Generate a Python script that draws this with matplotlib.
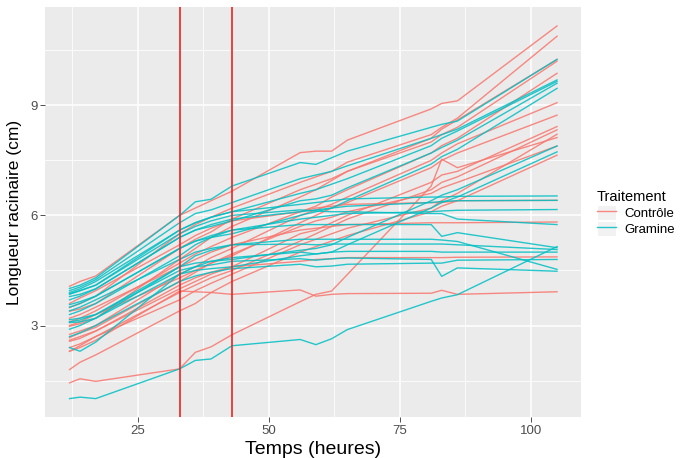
import matplotlib
matplotlib.use("Agg")
from matplotlib import pyplot as plt
from matplotlib.lines import Line2D
from matplotlib.patches import Patch
from matplotlib.legend_handler import HandlerTuple
from matplotlib.ticker import MultipleLocator

plt.rcParams['font.family'] = ['Liberation Sans', 'DejaVu Sans']

# temps de mesure (heures)
temps = [12, 14, 17, 33, 36, 39, 43, 56, 59, 62, 65, 81, 83, 86, 105]

# longueur racinaire (cm), une liste par plante
controle = [
    [4.07, 4.20, 4.35, 6.00, 6.20, 6.40, 6.66, 7.71, 7.75, 7.75, 8.05, 8.90, 9.05, 9.12, 11.16],
    [3.49, 3.60, 3.80, 5.50, 5.75, 5.95, 6.20, 6.90, 7.05, 7.20, 7.45, 8.20, 8.40, 8.65, 10.88],
    [3.39, 3.45, 3.60, 5.10, 5.35, 5.55, 5.90, 6.70, 6.85, 7.00, 7.20, 8.10, 8.35, 8.60, 10.25],
    [2.98, 3.05, 3.20, 4.80, 5.10, 5.40, 5.70, 6.50, 6.70, 6.95, 7.20, 8.00, 8.20, 8.40, 10.20],
    [3.10, 3.20, 3.40, 4.70, 4.95, 5.15, 5.40, 6.10, 6.25, 6.50, 6.70, 7.70, 7.90, 8.10, 9.87],
    [2.76, 2.85, 3.00, 4.40, 4.60, 4.85, 5.10, 6.00, 6.15, 6.30, 6.50, 7.50, 7.70, 7.95, 9.07],
    [2.67, 2.80, 2.95, 4.20, 4.45, 4.70, 4.90, 5.80, 6.00, 6.20, 6.35, 7.30, 7.50, 7.70, 8.73],
    [2.57, 2.65, 2.85, 4.00, 4.20, 4.40, 4.60, 5.50, 5.60, 5.80, 6.00, 6.90, 7.10, 7.20, 8.42],
    [2.30, 2.45, 2.70, 3.90, 4.10, 4.30, 4.50, 5.30, 5.50, 5.70, 5.90, 6.70, 6.90, 7.05, 8.33],
    [1.44, 1.55, 1.48, 1.82, 2.27, 2.42, 2.75, 3.65, 3.85, 3.94, 4.39, 6.80, 7.53, 7.30, 8.12],
    [2.40, 2.50, 2.70, 3.70, 3.95, 4.15, 4.40, 5.20, 5.35, 5.50, 5.65, 6.20, 6.40, 6.60, 8.21],
    [3.00, 3.10, 3.30, 4.30, 4.50, 4.70, 4.95, 5.70, 5.85, 5.95, 6.10, 6.60, 6.75, 6.90, 7.89],
    [1.80, 2.00, 2.20, 3.40, 3.60, 3.90, 4.20, 5.00, 5.15, 5.30, 5.45, 6.10, 6.25, 6.40, 7.64],
    [3.60, 3.75, 3.95, 5.20, 5.45, 5.65, 5.85, 6.10, 6.20, 6.25, 6.30, 6.35, 6.35, 6.40, 6.41],
    [3.20, 3.30, 3.50, 4.60, 4.80, 5.00, 5.20, 5.60, 5.65, 5.70, 5.75, 5.80, 5.80, 5.80, 5.82],
    [2.60, 2.70, 2.85, 4.10, 4.30, 4.45, 4.60, 4.75, 4.80, 4.82, 4.85, 4.85, 4.85, 4.86, 4.87],
    [2.30, 2.40, 2.60, 3.94, 3.92, 3.90, 3.85, 3.97, 3.80, 3.85, 3.87, 3.88, 3.96, 3.85, 3.92],
]

gramine = [
    [4.01, 4.10, 4.30, 6.00, 6.37, 6.44, 6.80, 7.44, 7.39, 7.57, 7.75, 8.40, 8.48, 8.57, 10.25],
    [3.95, 4.05, 4.25, 5.80, 6.05, 6.15, 6.35, 7.00, 7.10, 7.20, 7.35, 8.10, 8.20, 8.35, 9.69],
    [3.87, 3.95, 4.10, 5.60, 5.80, 5.95, 6.10, 6.60, 6.70, 6.85, 7.00, 7.90, 8.10, 8.30, 9.65],
    [3.79, 3.85, 4.00, 5.40, 5.60, 5.70, 5.85, 6.40, 6.45, 6.55, 6.75, 7.70, 7.85, 8.05, 9.60],
    [3.57, 3.65, 3.80, 5.10, 5.30, 5.40, 5.50, 6.00, 6.10, 6.20, 6.40, 7.40, 7.60, 7.80, 9.46],
    [3.16, 3.20, 3.30, 4.60, 4.70, 4.75, 4.80, 5.05, 5.10, 5.20, 5.40, 6.40, 6.55, 6.70, 7.89],
    [3.08, 3.10, 3.20, 4.40, 4.50, 4.55, 4.60, 4.90, 4.95, 5.00, 5.20, 6.20, 6.35, 6.50, 7.73],
    [3.90, 4.00, 4.20, 5.60, 5.80, 5.95, 6.10, 6.30, 6.35, 6.40, 6.45, 6.50, 6.50, 6.52, 6.53],
    [3.70, 3.80, 4.00, 5.40, 5.60, 5.75, 5.90, 6.10, 6.15, 6.20, 6.25, 6.35, 6.38, 6.40, 6.41],
    [3.50, 3.60, 3.80, 5.10, 5.30, 5.45, 5.60, 5.90, 5.95, 6.00, 6.05, 6.10, 6.12, 6.14, 6.16],
    [3.85, 3.95, 4.10, 5.50, 5.70, 5.85, 6.00, 6.15, 6.12, 6.10, 6.10, 6.05, 6.05, 5.90, 5.75],
    [3.30, 3.40, 3.60, 4.90, 5.20, 5.40, 5.60, 5.75, 5.75, 5.75, 5.75, 5.75, 5.43, 5.53, 5.12],
    [2.90, 3.00, 3.20, 4.60, 4.90, 5.05, 5.20, 5.35, 5.35, 5.35, 5.35, 5.35, 5.33, 5.29, 4.53],
    [3.40, 3.50, 3.70, 4.80, 5.00, 5.10, 5.20, 5.22, 5.20, 5.22, 5.22, 5.22, 5.22, 5.20, 5.07],
    [2.40, 2.30, 2.55, 4.40, 4.60, 4.75, 4.85, 5.00, 4.95, 5.00, 5.02, 5.02, 5.00, 5.00, 5.00],
    [3.10, 3.15, 3.30, 4.50, 4.60, 4.65, 4.75, 4.82, 4.78, 4.82, 4.84, 4.80, 4.34, 4.57, 4.48],
    [2.70, 2.80, 3.00, 4.20, 4.35, 4.45, 4.55, 4.67, 4.60, 4.62, 4.67, 4.70, 4.70, 4.78, 4.80],
    [1.01, 1.05, 1.01, 1.82, 2.05, 2.09, 2.45, 2.62, 2.48, 2.64, 2.89, 3.66, 3.75, 3.84, 5.15],
]

traitements = ['Contrôle', 'Gramine']
couleurs = ['#F8766D', '#00BFC4']
limites = [33, 43]

fig = plt.figure(figsize=(6.84, 4.58), dpi=100)
ax = fig.add_axes([0.066, 0.089, 0.784, 0.895])
ax.set_facecolor('#EBEBEB')

for serie in controle:
    ax.plot(temps, serie, color=couleurs[0], lw=1.0, alpha=0.85)
for serie in gramine:
    ax.plot(temps, serie, color=couleurs[1], lw=1.0, alpha=0.85)

# lignes verticales
for x in limites:
    ax.axvline(x, color='#EE2222', lw=1.2, zorder=5)

ax.margins(x=0.05, y=0.05)
ax.xaxis.set_major_locator(MultipleLocator(25))
ax.xaxis.set_minor_locator(MultipleLocator(12.5))
ax.set_yticks([3, 6, 9])
ax.yaxis.set_minor_locator(MultipleLocator(1.5))
ax.grid(True, which='major', color='white', lw=1.1)
ax.grid(True, which='minor', color='white', lw=0.55)
ax.set_axisbelow(True)
for s in ax.spines.values():
    s.set_visible(False)
ax.tick_params(which='major', length=3.5, width=0.6, color='#333333',
               labelsize=9.5, labelcolor='#4D4D4D', pad=2)
ax.tick_params(which='minor', length=0)

ax.set_xlabel('Temps (heures)', fontsize=14, labelpad=3)
ax.set_ylabel('Longueur racinaire (cm)', fontsize=12.5, labelpad=6)

# legende avec fond gris sous chaque cle (style ggplot)
handles = [(Patch(facecolor='#F2F2F2', edgecolor='white', lw=0.8),
            Line2D([], [], color=c, lw=1.0, alpha=0.85)) for c in couleurs]
leg = fig.legend(handles, traitements, title='Traitement', loc='center left',
                 bbox_to_anchor=(0.855, 0.535), frameon=False, fontsize=9.5,
                 title_fontsize=10.5, handlelength=1.5, handleheight=1.3,
                 handletextpad=0.6, labelspacing=0.1,
                 handler_map={tuple: HandlerTuple(ndivide=1, pad=0)})
leg._legend_box.align = 'left'

fig.savefig('out.png', dpi=100)
